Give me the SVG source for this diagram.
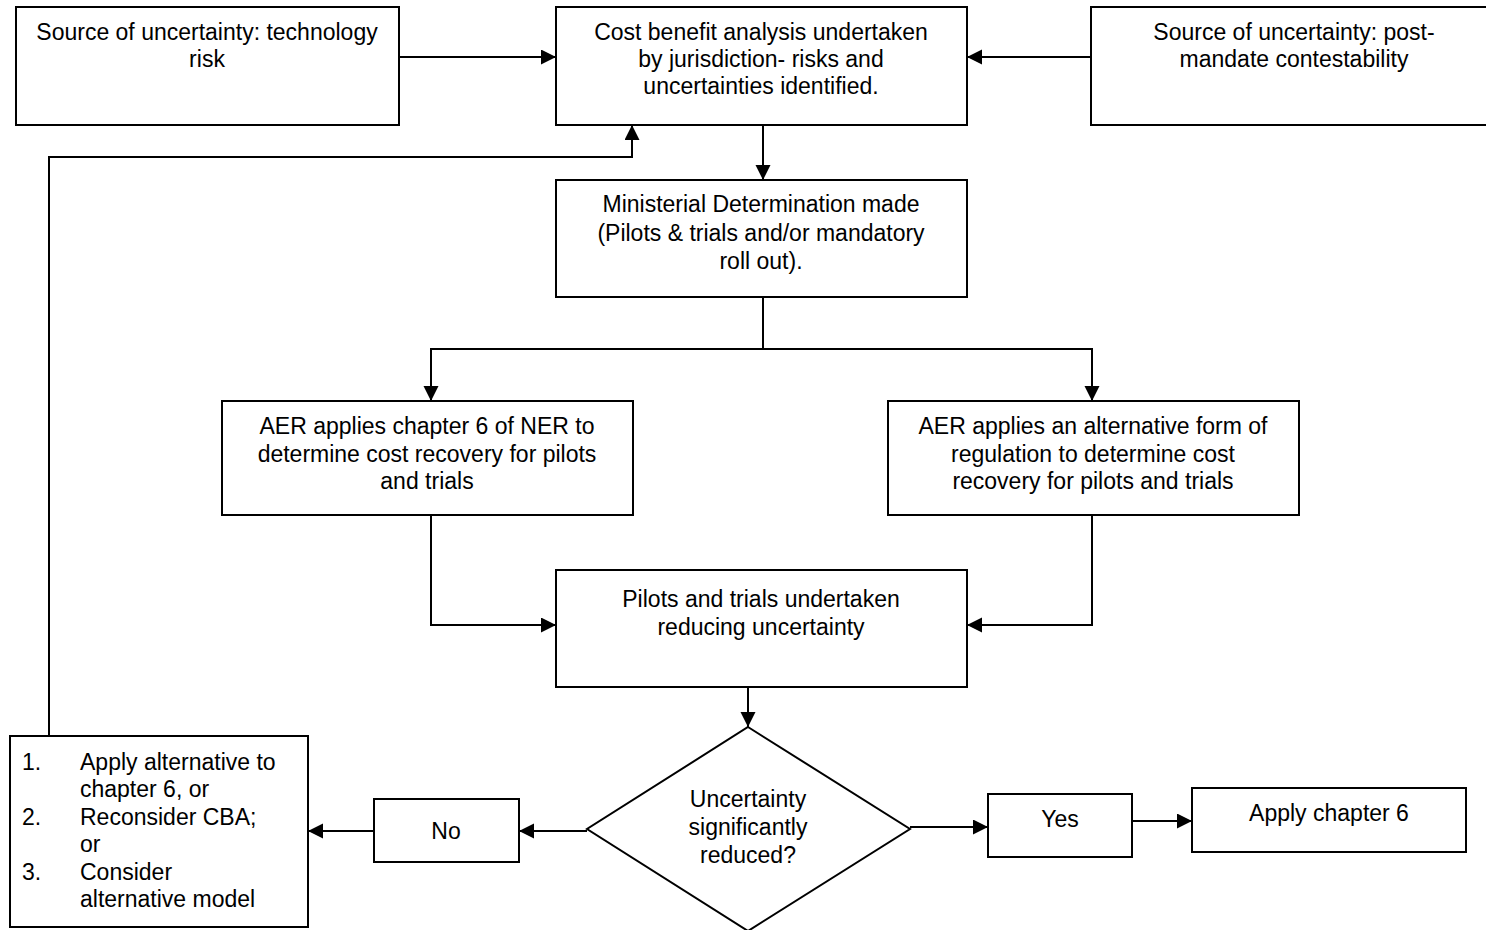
<svg xmlns="http://www.w3.org/2000/svg" width="1486" height="930" viewBox="0 0 1486 930">
<defs>
<style>
.box{fill:#fff;stroke:#000;stroke-width:2}
.t{font-family:"Liberation Sans",Arial,sans-serif;font-size:23px;fill:#000;text-anchor:middle}
.l{font-family:"Liberation Sans",Arial,sans-serif;font-size:23px;fill:#000}
.c{fill:none;stroke:#000;stroke-width:2}
</style>
<marker id="ah" markerUnits="userSpaceOnUse" markerWidth="16" markerHeight="16" refX="15" refY="7.5" orient="auto">
<path d="M0,0 L15,7.5 L0,15 z" fill="#000"/>
</marker>
</defs>
<rect width="1486" height="930" fill="#fff"/>
<g id="connectors">
<path class="c" d="M399,57 H556" marker-end="url(#ah)"/>
<path class="c" d="M1091,57 H967" marker-end="url(#ah)"/>
<path class="c" d="M763,125 V180" marker-end="url(#ah)"/>
<path class="c" d="M49,736 V157 H632 V125" marker-end="url(#ah)"/>
<path class="c" d="M763,297 V349"/>
<path class="c" d="M763,349 H431 V401" marker-end="url(#ah)"/>
<path class="c" d="M763,349 H1092 V401" marker-end="url(#ah)"/>
<path class="c" d="M431,515 V625 H556" marker-end="url(#ah)"/>
<path class="c" d="M1092,515 V625 H967" marker-end="url(#ah)"/>
<path class="c" d="M748,687 V727" marker-end="url(#ah)"/>
<path class="c" d="M587,831 H519" marker-end="url(#ah)"/>
<path class="c" d="M374,831 H308" marker-end="url(#ah)"/>
<path class="c" d="M910,827 H988" marker-end="url(#ah)"/>
<path class="c" d="M1132,821 H1192" marker-end="url(#ah)"/>
</g>
<g id="src-tech">
<rect class="box" x="16" y="7" width="383" height="118"/>
<text class="t" x="207" y="40">Source of uncertainty: technology</text>
<text class="t" x="207" y="67">risk</text>
</g>
<g id="cba">
<rect class="box" x="556" y="7" width="411" height="118"/>
<text class="t" x="761" y="40">Cost benefit analysis undertaken</text>
<text class="t" x="761" y="67">by jurisdiction- risks and</text>
<text class="t" x="761" y="94">uncertainties identified.</text>
</g>
<g id="src-post">
<rect class="box" x="1091" y="7" width="406" height="118"/>
<text class="t" x="1294" y="40">Source of uncertainty: post-</text>
<text class="t" x="1294" y="67">mandate contestability</text>
</g>
<g id="ministerial">
<rect class="box" x="556" y="180" width="411" height="117"/>
<text class="t" x="761" y="212">Ministerial Determination made</text>
<text class="t" x="761" y="241">(Pilots &amp; trials and/or mandatory</text>
<text class="t" x="761" y="269">roll out).</text>
</g>
<g id="aer-ch6">
<rect class="box" x="222" y="401" width="411" height="114"/>
<text class="t" x="427" y="434">AER applies chapter 6 of NER to</text>
<text class="t" x="427" y="462">determine cost recovery for pilots</text>
<text class="t" x="427" y="489">and trials</text>
</g>
<g id="aer-alt">
<rect class="box" x="888" y="401" width="411" height="114"/>
<text class="t" x="1093" y="434">AER applies an alternative form of</text>
<text class="t" x="1093" y="462">regulation to determine cost</text>
<text class="t" x="1093" y="489">recovery for pilots and trials</text>
</g>
<g id="pilots">
<rect class="box" x="556" y="570" width="411" height="117"/>
<text class="t" x="761" y="607">Pilots and trials undertaken</text>
<text class="t" x="761" y="635">reducing uncertainty</text>
</g>
<g id="decision">
<polygon class="box" points="748,727 910,829 748,931 587,829"/>
<text class="t" x="748" y="807">Uncertainty</text>
<text class="t" x="748" y="835">significantly</text>
<text class="t" x="748" y="863">reduced?</text>
</g>
<g id="no">
<rect class="box" x="374" y="799" width="145" height="63"/>
<text class="t" x="446" y="839">No</text>
</g>
<g id="options">
<rect class="box" x="10" y="736" width="298" height="191"/>
<text class="l" x="22" y="770">1.</text>
<text class="l" x="80" y="770">Apply alternative to</text>
<text class="l" x="80" y="797">chapter 6, or</text>
<text class="l" x="22" y="825">2.</text>
<text class="l" x="80" y="825">Reconsider CBA;</text>
<text class="l" x="80" y="852">or</text>
<text class="l" x="22" y="880">3.</text>
<text class="l" x="80" y="880">Consider</text>
<text class="l" x="80" y="907">alternative model</text>
</g>
<g id="yes">
<rect class="box" x="988" y="794" width="144" height="63"/>
<text class="t" x="1060" y="827">Yes</text>
</g>
<g id="apply-ch6">
<rect class="box" x="1192" y="788" width="274" height="64"/>
<text class="t" x="1329" y="821">Apply chapter 6</text>
</g>
</svg>
